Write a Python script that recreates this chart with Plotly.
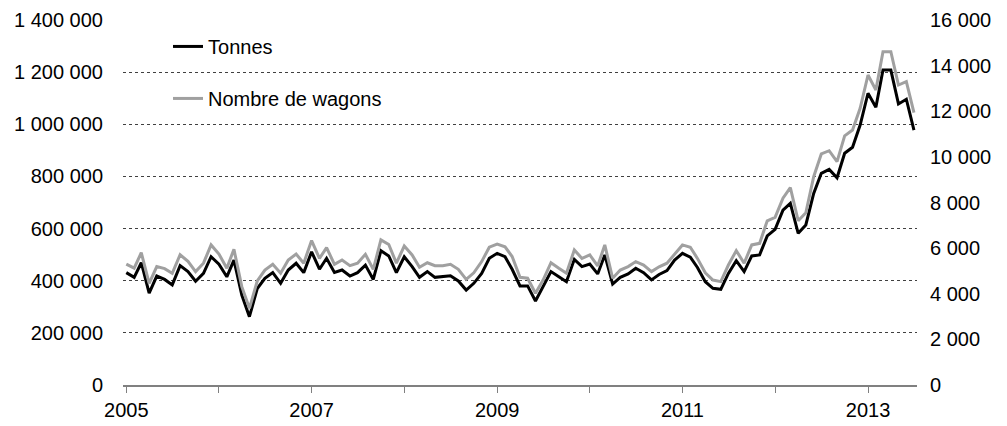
import pandas as pd
import plotly.graph_objects as go

# Monthly data, January 2005 to July 2013
start_month = "2005-01-01"
tonnes = [431, 413, 469, 352, 418, 405, 384, 458, 435, 398, 428, 492,
          463, 415, 479, 345, 262, 370, 409, 431, 390, 441, 467, 431,
          511, 444, 486, 432, 441, 418, 431, 460, 405, 515, 495, 431,
          492, 454, 413, 435, 413, 415, 419, 399, 364, 390, 428, 486,
          505, 492, 444, 380, 380, 322, 380, 435, 415, 396, 482, 454,
          464, 426, 499, 387, 413, 426, 448, 431, 403, 424, 439, 479,
          505, 490, 451, 396, 371, 367, 428, 477, 435, 495, 499, 572,
          597, 671, 697, 582, 614, 735, 812, 827, 795, 889, 912, 997,
          1119, 1065, 1208, 1208, 1078, 1096, 978]
tonnes = [v * 1000 for v in tonnes]
wagons = [5300, 5120, 5800, 4460, 5190, 5100, 4900, 5710, 5420, 4970, 5340, 6140,
          5740, 5120, 5950, 4310, 3360, 4560, 5040, 5290, 4900, 5480, 5740, 5340,
          6330, 5550, 6020, 5290, 5480, 5230, 5340, 5730, 5070, 6360, 6160, 5340,
          6090, 5700, 5160, 5360, 5230, 5230, 5290, 5070, 4630, 4920, 5410, 6040,
          6180, 6060, 5630, 4720, 4680, 4020, 4600, 5360, 5120, 4900, 5920, 5550,
          5700, 5220, 6140, 4680, 5040, 5190, 5410, 5260, 4970, 5180, 5340, 5740,
          6140, 6040, 5550, 4920, 4600, 4530, 5260, 5890, 5340, 6140, 6210, 7200,
          7350, 8190, 8650, 7200, 7550, 9130, 10130, 10270, 9790, 10920, 11180, 12130,
          13590, 12930, 14610, 14610, 13150, 13300, 11940]
year_ticks = list(range(2005, 2014))
year_labels = [str(y) if (y - 2005) % 2 == 0 else "" for y in year_ticks]

months = pd.date_range(start_month, periods=len(tonnes), freq="MS")
FONT = "Liberation Sans, Arial, sans-serif"

fig = go.Figure()
fig.add_trace(go.Scatter(x=months, y=wagons, name="Nombre de wagons", mode="lines",
                         line=dict(color="#A0A0A0", width=3), yaxis="y2",
                         legendgroup="w", legendrank=2))
fig.add_trace(go.Scatter(x=months, y=tonnes, name="Tonnes", mode="lines",
                         line=dict(color="#000000", width=3),
                         legendgroup="t", legendrank=1))

# page body adds an 8px margin; figure is sized to fit the 1007x426 window
fig.update_layout(
    width=999, height=418,
    margin=dict(l=115, r=90, t=12, b=41),
    paper_bgcolor="white", plot_bgcolor="white",
    separators=", ",
    font=dict(family=FONT, size=20, color="#000000"),
    showlegend=True,
    legend=dict(x=0.0567, y=0.981, xanchor="left", yanchor="top",
                bgcolor="rgba(0,0,0,0)", traceorder="grouped",
                tracegroupgap=23, font=dict(size=20)),
    xaxis=dict(
        type="date", automargin=False,
        range=["2004-12-19", "2013-07-13"],
        tickvals=[f"{y}-01-01" for y in year_ticks],
        ticktext=year_labels,
        ticks="outside", ticklen=6, tickcolor="#808080",
        showline=True, linecolor="#808080", linewidth=2,
        showgrid=False, zeroline=False,
    ),
    yaxis=dict(
        automargin=False,
        range=[0, 1400000], dtick=200000, tickformat=",",
        showgrid=True, gridcolor="#404040", gridwidth=1, griddash="dot",
        zeroline=False, ticks="", ticklabelstandoff=19,
    ),
    yaxis2=dict(
        automargin=False,
        range=[0, 16000], dtick=2000, tickformat=",",
        overlaying="y", side="right", showgrid=False, zeroline=False,
        ticks="", ticklabelstandoff=12,
    ),
)

fig.write_html("out.html")
